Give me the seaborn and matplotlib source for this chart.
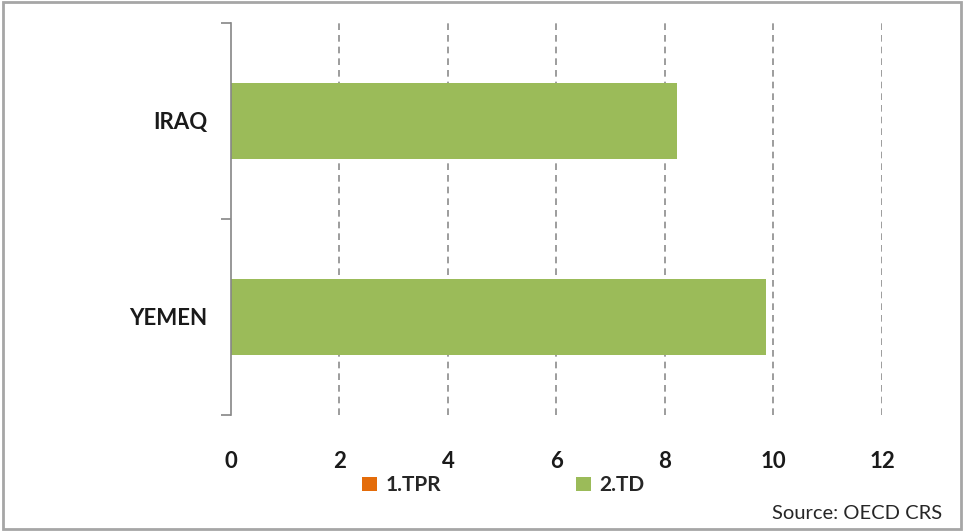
import matplotlib
matplotlib.use("Agg")
import matplotlib.pyplot as plt
from matplotlib.patches import Patch, Rectangle
import pandas as pd
import seaborn as sns

countries = ["IRAQ", "YEMEN"]
tpr_values = [0.0, 0.0]
td_values = [8.23, 9.86]
series_names = ["1.TPR", "2.TD"]
series_colors = ["#E46C0A", "#9BBB59"]
x_ticks = [0, 2, 4, 6, 8, 10, 12]

sns.set_theme(style="white")
plt.rcParams["font.family"] = ["Lato", "DejaVu Sans"]

df = pd.DataFrame({
    "country": countries * 2,
    "value": tpr_values + td_values,
    "series": [series_names[0]] * 2 + [series_names[1]] * 2,
})

fig = plt.figure(figsize=(9.64, 5.31), dpi=100)
ax = fig.add_axes([0.2396, 0.2185, 0.6753, 0.7382])

sns.barplot(data=df, x="value", y="country", hue="series", orient="h",
            palette=series_colors, dodge=False, width=0.39, saturation=1,
            edgecolor="none", legend=False, ax=ax)

ax.set_xlim(0, 12)
ax.set_ylim(1.5, -0.5)
ax.set_xticks(x_ticks)
ax.set_xticklabels([str(t) for t in x_ticks], fontsize=16, fontweight="bold",
                   color="#1a1a1a")
ax.tick_params(axis="x", length=0, pad=26)

# category labels on minor ticks, boundary tick marks on major ticks
ax.set_yticks([-0.5, 0.5, 1.5])
ax.set_yticklabels([])
ax.set_yticks([0, 1], minor=True)
ax.set_yticklabels(countries, minor=True, fontsize=16, fontweight="bold",
                   color="#1a1a1a")
ax.tick_params(axis="y", which="major", length=7, width=1.2, color="#868686",
               direction="out", left=True)
ax.tick_params(axis="y", which="minor", length=0, pad=17)

for x in x_ticks[1:]:
    ax.axvline(x, color="#8c8c8c", linestyle=(0, (4, 3)), linewidth=1.2, zorder=0)

for side in ["top", "right", "bottom"]:
    ax.spines[side].set_visible(False)
ax.spines["left"].set_color("#868686")
ax.spines["left"].set_linewidth(1.2)
ax.set_xlabel("")
ax.set_ylabel("")

handles = [Patch(facecolor=c, edgecolor="none", label=n)
           for n, c in zip(series_names, series_colors)]
fig.legend(handles=handles, loc="center", bbox_to_anchor=(0.522, 0.086), ncol=2,
           frameon=False, handlelength=0.7, handleheight=0.7,
           handletextpad=0.4, columnspacing=6.5,
           prop={"weight": "bold", "size": 15})

fig.text(0.977, 0.033, "Source: OECD CRS", ha="right", va="center",
         fontsize=14.5, color="#262626")

fig.patches.append(Rectangle((0.003, 0.004), 0.994, 0.992, transform=fig.transFigure,
                             fill=False, edgecolor="#a6a6a6", linewidth=2))

fig.savefig("out.png", dpi=100)
